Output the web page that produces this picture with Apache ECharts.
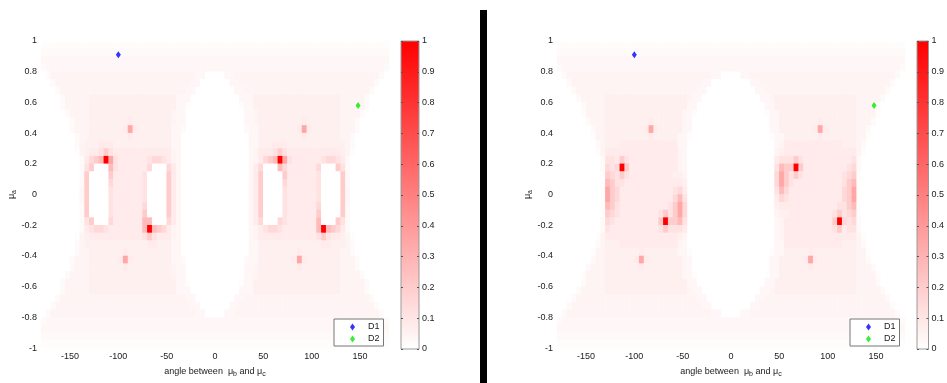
<!DOCTYPE html>
<html><head><meta charset="utf-8">
<script src="https://cdn.jsdelivr.net/npm/echarts@6/dist/echarts.min.js"></script>
<style>html,body{margin:0;padding:0;background:#fff}#c{width:947px;height:383px}</style>
</head><body><div id="c"></div>
<script>
// category centres of the density grid (degrees, mu_a)
const xCenters = [-177.5,-172.5,-167.5,-162.5,-157.5,-152.5,-147.5,-142.5,-137.5,-132.5,-127.5,-122.5,-117.5,-112.5,-107.5,-102.5,-97.5,-92.5,-87.5,-82.5,-77.5,-72.5,-67.5,-62.5,-57.5,-52.5,-47.5,-42.5,-37.5,-32.5,-27.5,-22.5,-17.5,-12.5,-7.5,-2.5,2.5,7.5,12.5,17.5,22.5,27.5,32.5,37.5,42.5,47.5,52.5,57.5,62.5,67.5,72.5,77.5,82.5,87.5,92.5,97.5,102.5,107.5,112.5,117.5,122.5,127.5,132.5,137.5,142.5,147.5,152.5,157.5,162.5,167.5,172.5,177.5];
const yCenters = [-0.975,-0.925,-0.875,-0.825,-0.775,-0.725,-0.675,-0.625,-0.575,-0.525,-0.475,-0.425,-0.375,-0.325,-0.275,-0.225,-0.175,-0.125,-0.075,-0.025,0.025,0.075,0.125,0.175,0.225,0.275,0.325,0.375,0.425,0.475,0.525,0.575,0.625,0.675,0.725,0.775,0.825,0.875,0.925,0.975];
const xTickLabels = [-150,-100,-50,0,50,100,150];
const yTickLabels = [-1,-0.8,-0.6,-0.4,-0.2,0,0.2,0.4,0.6,0.8,1];
const colorbarTicks = [0,0.1,0.2,0.3,0.4,0.5,0.6,0.7,0.8,0.9,1];
// density levels: code char -> value
const levelCodes = '0123456789abcdef';
const levelValues = [0,0.01,0.02,0.03,0.045,0.06,0.08,0.11,0.15,0.2,0.27,0.35,0.45,0.6,0.8,1];
// rows from top (mu=0.975) to bottom (mu=-0.975); 72 columns each
const densityLeft = [
'111111111111'+'111111111111'+'111111111111'+'111111111111'+'111111111111'+'111111111111',
'222222222222'+'222222222222'+'222222222222'+'222222222222'+'222222222222'+'222222222222',
'333333333333'+'333333333333'+'333333333333'+'333333333333'+'333333333333'+'333333333333',
'233333333'+'3'+'3333'+'33333333'+'3333'+'333'+'33333333333333'+'333'+'3333'+'33333333'+'3333'+'3'+'333333332',
'024444444'+'4'+'4444'+'44444444'+'4444'+'444'+'44433000033444'+'444'+'4444'+'44444444'+'4444'+'4'+'444444420',
'002444444'+'4'+'4444'+'44444444'+'4444'+'444'+'44330000003344'+'444'+'4444'+'44444444'+'4444'+'4'+'444444200',
'000244444'+'4'+'4444'+'44444444'+'4444'+'444'+'43300000000334'+'444'+'4444'+'44444444'+'4444'+'4'+'444442000',
'000024444'+'4'+'5555'+'55555555'+'5555'+'553'+'33000000000033'+'355'+'5555'+'55555555'+'5555'+'4'+'444420000',
'000024444'+'4'+'5555'+'55555555'+'5555'+'553'+'31000000000013'+'355'+'5555'+'55555555'+'5555'+'4'+'444420000',
'000002444'+'4'+'5555'+'55555555'+'5555'+'543'+'30000000000003'+'345'+'5555'+'55555555'+'5555'+'4'+'444200000',
'000000244'+'4'+'5555'+'55556555'+'5555'+'543'+'30000000000003'+'345'+'5555'+'55556555'+'5555'+'4'+'442000000',
'000000244'+'4'+'5555'+'5556b655'+'5555'+'533'+'20000000000002'+'335'+'5555'+'5556b655'+'5555'+'4'+'442000000',
'000000024'+'4'+'5555'+'55556555'+'5555'+'533'+'00000000000000'+'335'+'5555'+'55556555'+'5555'+'4'+'420000000',
'000000024'+'5'+'5566'+'65555555'+'5555'+'533'+'00000000000000'+'335'+'5566'+'65555555'+'5555'+'5'+'420000000',
'000000014'+'5'+'6679'+'76666666'+'6666'+'643'+'00000000000000'+'346'+'6679'+'76666666'+'6666'+'5'+'410000000',
'000000002'+'6'+'89af'+'b7666666'+'7887'+'643'+'00000000000000'+'346'+'89af'+'b7666666'+'7887'+'6'+'200000000',
'000000002'+'7'+'9000'+'a7666666'+'8000'+'863'+'00000000000000'+'368'+'000a'+'86666668'+'0009'+'7'+'200000000',
'000000002'+'9'+'0000'+'96666667'+'0000'+'963'+'00000000000000'+'369'+'0000'+'96666667'+'0000'+'9'+'200000000',
'000000002'+'9'+'0000'+'86666667'+'0000'+'963'+'00000000000000'+'369'+'0000'+'86666667'+'0000'+'9'+'200000000',
'000000003'+'9'+'0000'+'76666667'+'0000'+'963'+'00000000000000'+'369'+'0000'+'76666667'+'0000'+'9'+'300000000',
'000000003'+'9'+'0000'+'76666667'+'0000'+'963'+'00000000000000'+'369'+'0000'+'76666667'+'0000'+'9'+'300000000',
'000000002'+'9'+'0000'+'76666668'+'0000'+'963'+'00000000000000'+'369'+'0000'+'76666668'+'0000'+'9'+'200000000',
'000000002'+'9'+'0000'+'76666669'+'0000'+'963'+'00000000000000'+'369'+'0000'+'76666669'+'0000'+'9'+'200000000',
'000000002'+'7'+'9000'+'8666666a'+'a000'+'863'+'00000000000000'+'368'+'0008'+'7666666a'+'0009'+'7'+'200000000',
'000000002'+'6'+'7887'+'6666666a'+'fa98'+'643'+'00000000000000'+'346'+'7887'+'6666666a'+'fa98'+'6'+'200000000',
'000000014'+'5'+'6666'+'66666667'+'9766'+'643'+'00000000000000'+'346'+'6666'+'66666667'+'9766'+'5'+'410000000',
'000000024'+'5'+'5555'+'55555555'+'6655'+'533'+'00000000000000'+'335'+'5555'+'55555555'+'6655'+'5'+'420000000',
'000000024'+'4'+'5555'+'55565555'+'5555'+'533'+'00000000000000'+'335'+'5555'+'55565555'+'5555'+'4'+'420000000',
'000000244'+'4'+'5555'+'556b6555'+'5555'+'533'+'20000000000002'+'335'+'5555'+'556b6555'+'5555'+'4'+'442000000',
'000000244'+'4'+'5555'+'55565555'+'5555'+'543'+'30000000000003'+'345'+'5555'+'55565555'+'5555'+'4'+'442000000',
'000002444'+'4'+'5555'+'55555555'+'5555'+'543'+'30000000000003'+'345'+'5555'+'55555555'+'5555'+'4'+'444200000',
'000024444'+'4'+'5555'+'55555555'+'5555'+'553'+'31000000000013'+'355'+'5555'+'55555555'+'5555'+'4'+'444420000',
'000024444'+'4'+'5555'+'55555555'+'5555'+'553'+'33000000000033'+'355'+'5555'+'55555555'+'5555'+'4'+'444420000',
'000244444'+'4'+'4444'+'44444444'+'4444'+'444'+'43300000000334'+'444'+'4444'+'44444444'+'4444'+'4'+'444442000',
'002444444'+'4'+'4444'+'44444444'+'4444'+'444'+'44330000003344'+'444'+'4444'+'44444444'+'4444'+'4'+'444444200',
'024444444'+'4'+'4444'+'44444444'+'4444'+'444'+'44433000033444'+'444'+'4444'+'44444444'+'4444'+'4'+'444444420',
'233333333'+'3'+'3333'+'33333333'+'3333'+'333'+'33333333333333'+'333'+'3333'+'33333333'+'3333'+'3'+'333333332',
'333333333333'+'333333333333'+'333333333333'+'333333333333'+'333333333333'+'333333333333',
'222222222222'+'222222222222'+'222222222222'+'222222222222'+'222222222222'+'222222222222',
'111111111111'+'111111111111'+'111111111111'+'111111111111'+'111111111111'+'111111111111'
];
const densityRight = [
'111111111111'+'111111111111'+'111111111111'+'111111111111'+'111111111111'+'111111111111',
'222222222222'+'222222222222'+'222222222222'+'222222222222'+'222222222222'+'222222222222',
'333333333333'+'333333333333'+'333333333333'+'333333333333'+'333333333333'+'333333333333',
'2333333333'+'333'+'33333333333'+'333'+'333333333333333333'+'333'+'33333333333'+'333'+'3333333332',
'0244444444'+'444'+'44444444444'+'444'+'444443300003344444'+'444'+'44444444444'+'444'+'4444444420',
'0024444444'+'444'+'44444444444'+'444'+'444330000000033444'+'444'+'44444444444'+'444'+'4444444200',
'0002444444'+'444'+'44444444444'+'444'+'443300000000003344'+'444'+'44444444444'+'444'+'4444442000',
'0000244444'+'555'+'55555555555'+'555'+'433000000000000334'+'555'+'55555555555'+'555'+'4444420000',
'0000024444'+'555'+'55555555555'+'555'+'330000000000000033'+'555'+'55555555555'+'555'+'4444200000',
'0000014444'+'555'+'55555555555'+'553'+'310000000000000013'+'355'+'55555555555'+'555'+'4444100000',
'0000002444'+'555'+'55555565555'+'553'+'300000000000000003'+'355'+'55555565555'+'555'+'4442000000',
'0000000244'+'555'+'555556b6555'+'553'+'300000000000000003'+'355'+'555556b6555'+'555'+'4420000000',
'0000000144'+'555'+'55555565555'+'533'+'100000000000000001'+'335'+'55555565555'+'555'+'4410000000',
'0000000024'+'555'+'66666666666'+'633'+'000000000000000000'+'346'+'66666666666'+'555'+'4200000000',
'0000000014'+'666'+'66666666666'+'643'+'000000000000000000'+'456'+'66666666666'+'666'+'4100000000',
'0000000002'+'776'+'97666666666'+'643'+'000000000000000000'+'677'+'79766666666'+'667'+'2000000000',
'0000000002'+'878'+'f9666666666'+'643'+'000000000000000000'+'7a9'+'9f966666666'+'678'+'2000000000',
'0000000001'+'987'+'97666666666'+'554'+'000000000000000000'+'8b9'+'79766666666'+'789'+'1000000000',
'0000000001'+'a97'+'76666666666'+'665'+'000000000000000000'+'8b9'+'76666666666'+'79a'+'1000000000',
'0000000001'+'b98'+'66666666666'+'786'+'000000000000000000'+'7a8'+'66666666666'+'89b'+'1000000000',
'0000000001'+'b98'+'66666666666'+'8a7'+'000000000000000000'+'687'+'66666666666'+'89b'+'1000000000',
'0000000001'+'a97'+'66666666667'+'9b8'+'000000000000000000'+'566'+'66666666667'+'79a'+'1000000000',
'0000000001'+'987'+'66666666797'+'9b8'+'000000000000000000'+'455'+'66666666679'+'789'+'1000000000',
'0000000002'+'876'+'666666669f9'+'9a7'+'000000000000000000'+'346'+'6666666669f'+'878'+'2000000000',
'0000000002'+'766'+'66666666797'+'776'+'000000000000000000'+'346'+'66666666679'+'677'+'2000000000',
'0000000014'+'666'+'66666666666'+'654'+'000000000000000000'+'346'+'66666666666'+'666'+'4100000000',
'0000000024'+'555'+'66666666666'+'643'+'000000000000000000'+'336'+'66666666666'+'555'+'4200000000',
'0000000144'+'555'+'55556555555'+'533'+'100000000000000001'+'335'+'55556555555'+'555'+'4410000000',
'0000000244'+'555'+'5556b655555'+'553'+'300000000000000003'+'355'+'5556b655555'+'555'+'4420000000',
'0000002444'+'555'+'55556555555'+'553'+'300000000000000003'+'355'+'55556555555'+'555'+'4442000000',
'0000014444'+'555'+'55555555555'+'553'+'310000000000000013'+'355'+'55555555555'+'555'+'4444100000',
'0000024444'+'555'+'55555555555'+'555'+'330000000000000033'+'555'+'55555555555'+'555'+'4444200000',
'0000244444'+'555'+'55555555555'+'555'+'433000000000000334'+'555'+'55555555555'+'555'+'4444420000',
'0002444444'+'444'+'44444444444'+'444'+'443300000000003344'+'444'+'44444444444'+'444'+'4444442000',
'0024444444'+'444'+'44444444444'+'444'+'444330000000033444'+'444'+'44444444444'+'444'+'4444444200',
'0244444444'+'444'+'44444444444'+'444'+'444443300003344444'+'444'+'44444444444'+'444'+'4444444420',
'2333333333'+'333'+'33333333333'+'333'+'333333333333333333'+'333'+'33333333333'+'333'+'3333333332',
'333333333333'+'333333333333'+'333333333333'+'333333333333'+'333333333333'+'333333333333',
'222222222222'+'222222222222'+'222222222222'+'222222222222'+'222222222222'+'222222222222',
'111111111111'+'111111111111'+'111111111111'+'111111111111'+'111111111111'+'111111111111'
];
const seriesNames = ['D1','D2'];
const pointD1 = [-100, 0.91];
const pointD2 = [148, 0.58];

function toCells(rows) {
  const out = [];
  rows.forEach((row, r) => {
    if (row.length !== xCenters.length) console.warn('row', r, 'length', row.length);
    for (let c = 0; c < xCenters.length; c++) {
      const k = levelCodes.indexOf(row.charAt(c));
      out.push([c, yCenters.length - 1 - r, levelValues[k < 0 ? 0 : k]]);
    }
  });
  return out;
}

const FONT = '"Liberation Sans", Arial, sans-serif';
const TXT = {fontFamily: FONT, fontSize: 9, color: '#1a1a1a'};
const fmt1 = v => { const r = Math.round(v * 10) / 10; return String(Math.abs(r) < 1e-9 ? 0 : r); };
const richName = {
  t: {fontFamily: FONT, fontSize: 9, lineHeight: 12, color: '#1a1a1a'},
  m: {fontFamily: FONT, fontSize: 9, lineHeight: 12, color: '#1a1a1a'},
  s: {fontFamily: FONT, fontSize: 7, lineHeight: 7, padding: [5, 0, 0, 0], color: '#1a1a1a'}
};
const hotGrad = new echarts.graphic.LinearGradient(0, 0, 0, 1, [{offset: 0, color: '#ff0000'}, {offset: 1, color: '#ffffff'}]);

const panels = [{plotLeft: 41, cbLeft: 401, legendLeft: 334, rows: densityLeft},
                {plotLeft: 557, cbLeft: 917, legendLeft: 850, rows: densityRight}];

const option = {animation: false, backgroundColor: '#fff', grid: [], xAxis: [], yAxis: [], series: [], legend: [],
  visualMap: {type: 'continuous', show: false, min: 0, max: 1, dimension: 2, seriesIndex: [0, 4],
              inRange: {color: ['#ffffff', '#ff0000']}},
  graphic: [{type: 'rect', shape: {x: 480, y: 10, width: 7, height: 373}, style: {fill: '#000'}, silent: true}]
};

panels.forEach((p, i) => {
  const g = option.grid.length;
  option.grid.push({left: p.plotLeft, top: 41, width: 348, height: 308});
  option.grid.push({left: p.cbLeft, top: 41, width: 18, height: 308, show: true, z: 10,
    borderColor: '#9a9a9a', borderWidth: 1, backgroundColor: 'transparent'});
  const xa = option.xAxis.length, ya = option.yAxis.length;
  option.xAxis.push({type: 'category', gridIndex: g, data: xCenters, show: false, position: 'bottom'});
  option.xAxis.push({type: 'value', gridIndex: g, min: -180, max: 180, interval: 10, position: 'bottom',
    axisLine: {show: false, onZero: false}, axisTick: {show: false}, splitLine: {show: false},
    axisLabel: Object.assign({}, TXT, {margin: 4, formatter: v => xTickLabels.indexOf(v) >= 0 ? String(v) : ''}),
    name: '{t|angle between  }{m|μ}{s|b}{t| and }{m|μ}{s|c}', nameLocation: 'middle', nameGap: 13,
    nameTextStyle: Object.assign({}, TXT, {rich: richName})});
  option.xAxis.push({type: 'category', gridIndex: g + 1, data: ['cb'], show: false, position: 'bottom'});
  option.yAxis.push({type: 'category', gridIndex: g, data: yCenters, show: false, position: 'left'});
  option.yAxis.push({type: 'value', gridIndex: g, min: -1, max: 1, interval: 0.2, position: 'left',
    axisLine: {show: false, onZero: false}, axisTick: {show: false}, splitLine: {show: false},
    axisLabel: Object.assign({}, TXT, {margin: 4, formatter: fmt1}),
    name: '{m|μ}{s|a}', nameLocation: 'middle', nameGap: 21, nameRotate: 90,
    nameTextStyle: Object.assign({}, TXT, {rich: richName})});
  option.yAxis.push({type: 'value', gridIndex: g + 1, min: 0, max: 1, interval: 0.1, position: 'right', z: 11,
    axisLine: {show: false, onZero: false}, splitLine: {show: false},
    axisTick: {show: true, inside: true, length: 2, lineStyle: {color: '#555'}},
    axisLabel: Object.assign({}, TXT, {margin: 3, formatter: v => fmt1(colorbarTicks[Math.round(v * 10)])})});
  option.yAxis.push({type: 'value', gridIndex: g + 1, min: 0, max: 1, interval: 0.1, position: 'left', z: 11,
    axisLine: {show: false, onZero: false}, splitLine: {show: false}, axisLabel: {show: false},
    axisTick: {show: true, inside: true, length: 2, lineStyle: {color: '#555'}}});
  option.series.push({type: 'heatmap', xAxisIndex: xa, yAxisIndex: ya, data: toCells(p.rows),
    itemStyle: {borderWidth: 0}, emphasis: {disabled: true}, silent: true});
  option.series.push({type: 'scatter', name: seriesNames[0], xAxisIndex: xa + 1, yAxisIndex: ya + 1, data: [pointD1],
    symbol: 'diamond', symbolSize: [5, 7], itemStyle: {color: '#0000ff'}, z: 5});
  option.series.push({type: 'scatter', name: seriesNames[1], xAxisIndex: xa + 1, yAxisIndex: ya + 1, data: [pointD2],
    symbol: 'diamond', symbolSize: [5, 7], itemStyle: {color: '#00ee00'}, z: 5});
  option.series.push({type: 'bar', xAxisIndex: xa + 2, yAxisIndex: ya + 2, data: [1], barWidth: '100%',
    itemStyle: {color: hotGrad}, silent: true});
  option.legend.push({left: p.legendLeft, top: 319, orient: 'vertical', data: seriesNames, selectedMode: false,
    itemWidth: 5, itemHeight: 7, itemGap: 2, padding: [3, 4, 2, 16], borderColor: '#777', borderWidth: 1,
    backgroundColor: '#fff', textStyle: Object.assign({}, TXT, {padding: [0, 0, 0, 8], lineHeight: 10})});
});

const chart = echarts.init(document.getElementById('c'), null, {renderer: 'canvas'});
chart.setOption(option);
</script>
</body></html>
